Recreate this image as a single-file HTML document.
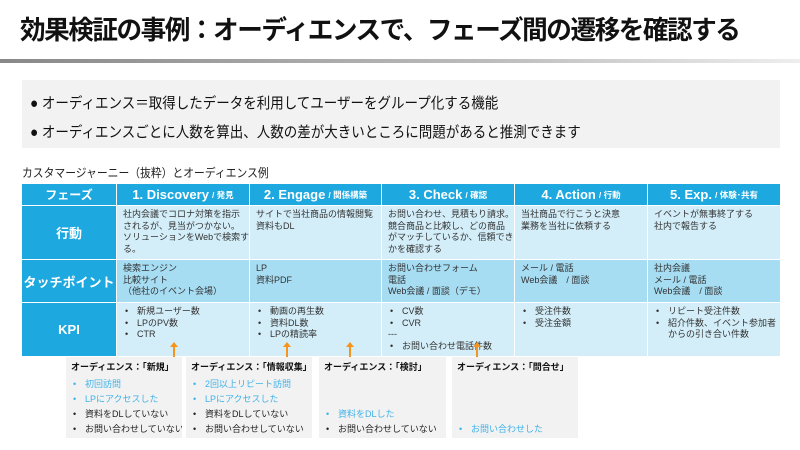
<!DOCTYPE html>
<html><head><meta charset="utf-8"><style>
*{margin:0;padding:0;box-sizing:border-box}
body{width:800px;height:450px;background:#fff;position:relative;overflow:hidden;font-family:"Liberation Sans","Noto Sans CJK JP",sans-serif;color:#222}
.a{position:absolute}
h1{position:absolute;left:20px;top:10px;font-size:26px;font-weight:bold;color:#111;letter-spacing:-1.5px;transform:scaleX(0.985);transform-origin:left;white-space:nowrap}
.line{left:0;top:59px;width:800px;height:4px;background:linear-gradient(90deg,#888,#bbb 60%,#eee)}
.gbox{left:22px;top:80px;width:758px;height:68px;background:#f2f2f2}
.b{font-size:15px;color:#111;white-space:nowrap;transform:scaleX(0.9);transform-origin:left}
.cell{position:absolute;font-size:9px;line-height:11.7px;color:#333;padding:4px 6px;white-space:nowrap;overflow:hidden}
.hd{position:absolute;background:#1ea8e0;color:#fff;font-weight:bold;display:flex;align-items:center;justify-content:center;white-space:nowrap}
.hd small{font-size:8.5px;margin-left:3px}
ul{list-style:none}
li:before{content:"•";display:inline-block;width:12px;padding-left:2px}
.box{position:absolute;top:357px;height:81px;background:#f2f2f2;font-size:9px;line-height:15px;padding:3px 5px;white-space:nowrap;overflow:hidden}
.box b{display:block;color:#111;margin-bottom:2px}
.bl{color:#3fb2e8}
.arr{position:absolute;width:2px;background:#f7941d;top:346px;height:11px}
.arr:before{content:"";position:absolute;left:-3px;top:-4px;border-left:4px solid transparent;border-right:4px solid transparent;border-bottom:5px solid #f7941d}
</style></head><body>
<h1>効果検証の事例：オーディエンスで、フェーズ間の遷移を確認する</h1>
<div class="a line"></div>
<div class="a gbox"></div>
<div class="a b" style="left:30px;top:92px">● オーディエンス＝取得したデータを利用してユーザーをグループ化する機能</div>
<div class="a b" style="left:30px;top:121px">● オーディエンスごとに人数を算出、人数の差が大きいところに問題があると推測できます</div>
<div class="a" style="left:22px;top:164px;font-size:12px;transform:scaleX(0.9);transform-origin:left;white-space:nowrap">カスタマージャーニー（抜粋）とオーディエンス例</div>

<div class="a" style="left:116px;top:205px;width:664px;height:54px;background:#d3eef9"></div>
<div class="a" style="left:116px;top:259px;width:664px;height:43px;background:#a7ddf3"></div>
<div class="a" style="left:116px;top:302px;width:664px;height:54px;background:#d3eef9"></div>
<div class="hd" style="left:22px;top:184px;width:94px;height:21px;font-size:12px">フェーズ</div>
<div class="hd" style="left:117px;top:184px;width:132px;height:21px;font-size:13px">1. Discovery<small>/ 発見</small></div>
<div class="hd" style="left:250px;top:184px;width:131px;height:21px;font-size:13px">2. Engage<small>/ 関係構築</small></div>
<div class="hd" style="left:382px;top:184px;width:132px;height:21px;font-size:13px">3. Check<small>/ 確認</small></div>
<div class="hd" style="left:515px;top:184px;width:132px;height:21px;font-size:13px">4. Action<small>/ 行動</small></div>
<div class="hd" style="left:648px;top:184px;width:132px;height:21px;font-size:13px">5. Exp.<small>/ 体験･共有</small></div>
<div class="hd" style="left:22px;top:206px;width:94px;height:53px;font-size:13px">行動</div>
<div class="hd" style="left:22px;top:260px;width:94px;height:42px;font-size:13px">タッチポイント</div>
<div class="hd" style="left:22px;top:303px;width:94px;height:53px;font-size:13px">KPI</div>
<div class="a" style="left:116px;top:184px;width:1px;height:172px;background:#fff"></div>
<div class="a" style="left:249px;top:184px;width:1px;height:172px;background:#fff"></div>
<div class="a" style="left:381px;top:184px;width:1px;height:172px;background:#fff"></div>
<div class="a" style="left:514px;top:184px;width:1px;height:172px;background:#fff"></div>
<div class="a" style="left:647px;top:184px;width:1px;height:172px;background:#fff"></div>
<div class="a" style="left:22px;top:205px;width:758px;height:1px;background:#fff"></div>
<div class="a" style="left:22px;top:259px;width:758px;height:1px;background:#fff"></div>
<div class="a" style="left:22px;top:302px;width:758px;height:1px;background:#fff"></div>

<div class="cell" style="left:117px;top:205px;width:132px">社内会議でコロナ対策を指示<br>されるが、見当がつかない。<br>ソリューションをWebで検索す<br>る。</div>
<div class="cell" style="left:250px;top:205px;width:131px">サイトで当社商品の情報閲覧<br>資料もDL</div>
<div class="cell" style="left:382px;top:205px;width:132px">お問い合わせ、見積もり請求。<br>競合商品と比較し、どの商品<br>がマッチしているか、信頼できる<br>かを確認する</div>
<div class="cell" style="left:515px;top:205px;width:132px">当社商品で行こうと決意<br>業務を当社に依頼する</div>
<div class="cell" style="left:648px;top:205px;width:132px">イベントが無事終了する<br>社内で報告する</div>

<div class="cell" style="left:117px;top:259px">検索エンジン<br>比較サイト<br>（他社のイベント会場）</div>
<div class="cell" style="left:250px;top:259px">LP<br>資料PDF</div>
<div class="cell" style="left:382px;top:259px">お問い合わせフォーム<br>電話<br>Web会議 / 面談（デモ）</div>
<div class="cell" style="left:515px;top:259px">メール / 電話<br>Web会議　/ 面談</div>
<div class="cell" style="left:648px;top:259px">社内会議<br>メール / 電話<br>Web会議　/ 面談</div>

<div class="cell" style="left:117px;top:302px"><ul><li>新規ユーザー数</li><li>LPのPV数</li><li>CTR</li></ul></div>
<div class="cell" style="left:250px;top:302px"><ul><li>動画の再生数</li><li>資料DL数</li><li>LPの精読率</li></ul></div>
<div class="cell" style="left:382px;top:302px"><ul><li>CV数</li><li>CVR</li></ul>---<ul><li>お問い合わせ電話件数</li></ul></div>
<div class="cell" style="left:515px;top:302px"><ul><li>受注件数</li><li>受注金額</li></ul></div>
<div class="cell" style="left:648px;top:302px;width:132px"><ul><li>リピート受注件数</li><li>紹介件数、イベント参加者</li></ul><span style="padding-left:14px">からの引き合い件数</span></div>

<div class="box" style="left:66px;width:116px"><b>オーディエンス：「新規」</b><ul><li class="bl">初回訪問</li><li class="bl">LPにアクセスした</li><li>資料をDLしていない</li><li>お問い合わせしていない</li></ul></div>
<div class="box" style="left:186px;width:126px"><b>オーディエンス：「情報収集」</b><ul><li class="bl">2回以上リピート訪問</li><li class="bl">LPにアクセスした</li><li>資料をDLしていない</li><li>お問い合わせしていない</li></ul></div>
<div class="box" style="left:319px;width:127px"><b>オーディエンス：「検討」</b><ul><li style="visibility:hidden">x</li><li style="visibility:hidden">x</li><li class="bl">資料をDLした</li><li>お問い合わせしていない</li></ul></div>
<div class="box" style="left:452px;width:126px"><b>オーディエンス：「問合せ」</b><ul><li style="visibility:hidden">x</li><li style="visibility:hidden">x</li><li style="visibility:hidden">x</li><li class="bl">お問い合わせした</li></ul></div>

<div class="arr" style="left:173px"></div>
<div class="arr" style="left:286px"></div>
<div class="arr" style="left:349px"></div>
<div class="arr" style="left:476px"></div>
</body></html>
